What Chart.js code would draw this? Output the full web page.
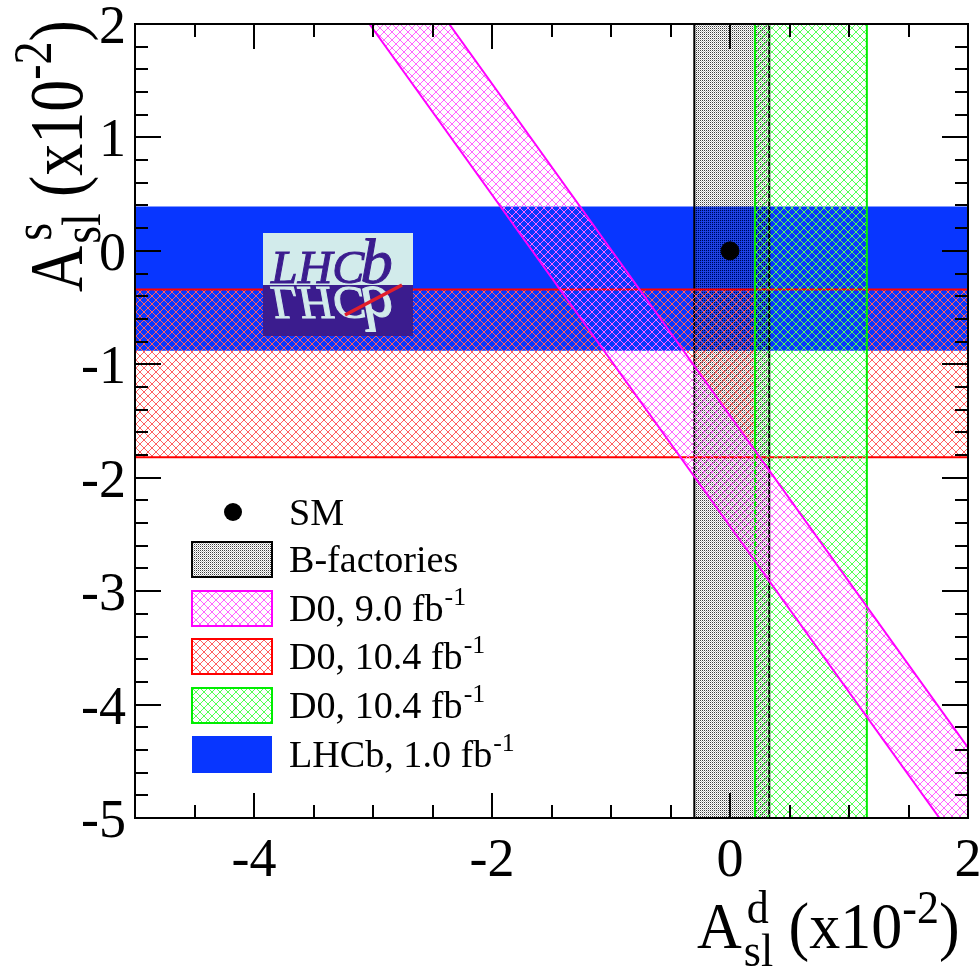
<!DOCTYPE html>
<html><head><meta charset="utf-8">
<script src="https://cdn.jsdelivr.net/npm/chart.js@4.4.1/dist/chart.umd.min.js"></script>
<style>html,body{margin:0;padding:0;background:#fff}canvas{display:block}</style>
</head><body>
<canvas id="c" width="980" height="969"></canvas>
<script>
// ---- data (units of 1e-2) ----
const xRange = [-5, 2];
const yRange = [-5, 2];
const xTickLabels = [-4, -2, 0, 2];
const yTickLabels = [2, 1, 0, -1, -2, -3, -4, -5];
const smPoint = [0.0, 0.0];
const bFactoriesAd = [-0.30, 0.33];
const d0AdBand = [0.21, 1.15];
const d0AsBand = [-1.82, -0.34];
const lhcbAsBand = [-0.88, 0.39];
const d0AbX = [-3.03, -2.36, 2.00, 2.00, 1.76];
const d0AbY = [2.00, 2.00, -4.38, -5.00, -5.00];
const legendLabels = ['SM', 'B-factories', 'D0, 9.0 fb', 'D0, 10.4 fb', 'D0, 10.4 fb', 'LHCb, 1.0 fb'];
const legendSups = ['', '', '-1', '-1', '-1', '-1'];

const SERIF = '"Liberation Serif", "Times New Roman", serif';
const canvas = document.getElementById('c');
const mainCtx = canvas.getContext('2d');

function hatch(color, n) {
  const c = document.createElement('canvas'); c.width = n; c.height = n;
  const g = c.getContext('2d'); g.fillStyle = color;
  for (let i = 0; i < n; i++) { g.fillRect(i, i, 1, 1); g.fillRect(n - 1 - i, i, 1, 1); }
  return mainCtx.createPattern(c, 'repeat');
}
function dots() {
  const c = document.createElement('canvas'); c.width = 2; c.height = 2;
  const g = c.getContext('2d');
  g.fillStyle = 'rgba(0,0,0,0.75)'; g.fillRect(0, 0, 1, 1);
  g.fillStyle = 'rgba(110,110,110,0.45)'; g.fillRect(1, 1, 1, 1);
  return mainCtx.createPattern(c, 'repeat');
}
const magentaPat = hatch('#ff66ff', 8);
const redPat = hatch('#ff6060', 8);
const greenPat = hatch('#55ff55', 8);
const greyPat = dots();
const BLUE = '#0836ff';

function vBand(a) {
  return [{x: a[0], y: yRange[0]}, {x: a[0], y: yRange[1]}, {x: a[1], y: yRange[1]}, {x: a[1], y: yRange[0]}, {x: a[0], y: yRange[0]}];
}
function hBand(a) {
  return [{x: xRange[0], y: a[0]}, {x: xRange[1], y: a[0]}, {x: xRange[1], y: a[1]}, {x: xRange[0], y: a[1]}, {x: xRange[0], y: a[0]}];
}
const magentaPoly = d0AbX.map((x, i) => ({x, y: d0AbY[i]}));
magentaPoly.push({x: d0AbX[0], y: d0AbY[0]});

function bandDs(data, bg, border, bw, order) {
  return {data, showLine: true, fill: 'shape', backgroundColor: bg, borderColor: border,
    borderWidth: bw, pointRadius: 0, order, tension: 0};
}

const datasets = [
  bandDs(hBand(lhcbAsBand), BLUE, BLUE, 0, 6),
  bandDs(vBand(bFactoriesAd), greyPat, '#000', 2, 5),
  bandDs(hBand(d0AsBand), redPat, '#ff0000', 2, 4),
  bandDs(vBand(d0AdBand), greenPat, '#00ee00', 2, 3),
  bandDs(magentaPoly, magentaPat, '#ff00ff', 2, 2),
  {data: [{x: smPoint[0], y: smPoint[1]}], pointRadius: 9, pointBackgroundColor: '#000',
    pointBorderColor: '#000', showLine: false, order: 1}
];

function drawTitle(ctx, x, y, rot, F, S, k, supOff, subOff, A, sup, sub, mid, sup2, end) {
  ctx.save();
  ctx.translate(x, y);
  if (rot) ctx.rotate(rot);
  ctx.scale(1, k);
  ctx.fillStyle = '#000';
  ctx.textAlign = 'left'; ctx.textBaseline = 'alphabetic';
  ctx.font = F + 'px ' + SERIF;
  ctx.fillText(A, 0, 0);
  let p = ctx.measureText(A).width + 2;
  ctx.font = S + 'px ' + SERIF;
  ctx.fillText(sup, p + 3, supOff);
  ctx.fillText(sub, p, subOff);
  p += Math.max(ctx.measureText(sub).width, ctx.measureText(sup).width + 3);
  ctx.font = F + 'px ' + SERIF;
  ctx.fillText(mid, p, 0);
  p += ctx.measureText(mid).width;
  ctx.font = S + 'px ' + SERIF;
  ctx.fillText(sup2, p, supOff);
  p += ctx.measureText(sup2).width;
  ctx.font = F + 'px ' + SERIF;
  ctx.fillText(end, p, 0);
  ctx.restore();
}

function logoText(ctx, color) {
  ctx.save();
  ctx.translate(271, 283);
  ctx.scale(1.02, 1);
  ctx.fillStyle = color;
  ctx.strokeStyle = color; ctx.lineWidth = 1;
  ctx.font = 'italic 47px ' + SERIF;
  ctx.fillText('LHC', 0, 0);
  ctx.strokeText('LHC', 0, 0);
  const w = ctx.measureText('LHC').width;
  ctx.font = 'italic 64px ' + SERIF;
  ctx.fillText('b', w - 4, 0);
  ctx.strokeText('b', w - 4, 0);
  ctx.restore();
}

const decor = {
  id: 'decor',
  afterDatasetsDraw(chart) {
    const ctx = chart.ctx;
    // LHCb logo
    ctx.save();
    ctx.fillStyle = '#d2ebeb'; ctx.fillRect(263, 233, 150, 52);
    ctx.fillStyle = '#3b1c8e'; ctx.fillRect(263, 285, 150, 51);
    ctx.save(); ctx.beginPath(); ctx.rect(263, 233, 150, 52); ctx.clip();
    logoText(ctx, '#3b1c8e'); ctx.restore();
    ctx.save(); ctx.beginPath(); ctx.rect(263, 285, 150, 51); ctx.clip();
    ctx.translate(0, 570); ctx.scale(1, -1); logoText(ctx, '#d2ebeb'); ctx.restore();
    ctx.strokeStyle = '#e11f2b'; ctx.lineWidth = 3.5; ctx.beginPath();
    ctx.moveTo(345, 315); ctx.lineTo(402, 285); ctx.stroke();
    ctx.restore();
  },
  afterDraw(chart) {
    const ctx = chart.ctx, a = chart.chartArea;
    const xs = chart.scales.x, ys = chart.scales.y;
    ctx.save();
    ctx.strokeStyle = '#000'; ctx.lineWidth = 2;
    // ticks
    ctx.beginPath();
    for (let i = 0; i <= 14; i++) {
      const v = xRange[0] + i * 0.5;
      const px = Math.round(xs.getPixelForValue(v));
      const len = xTickLabels.includes(v) ? 25 : 13;
      ctx.moveTo(px, a.bottom); ctx.lineTo(px, a.bottom - len);
      ctx.moveTo(px, a.top); ctx.lineTo(px, a.top + len);
    }
    for (let i = 0; i <= 35; i++) {
      const v = yRange[0] + i * 0.2;
      const py = Math.round(ys.getPixelForValue(v));
      const len = (i % 5 === 0) ? 26 : 13;
      ctx.moveTo(a.left, py); ctx.lineTo(a.left + len, py);
      ctx.moveTo(a.right, py); ctx.lineTo(a.right - len, py);
    }
    ctx.stroke();
    ctx.strokeRect(a.left, a.top, a.right - a.left, a.bottom - a.top);
    // tick labels
    ctx.fillStyle = '#000';
    ctx.font = '54px ' + SERIF;
    ctx.textAlign = 'center'; ctx.textBaseline = 'alphabetic';
    xTickLabels.forEach(v => ctx.fillText(String(v), xs.getPixelForValue(v), 876));
    ctx.textAlign = 'right';
    yTickLabels.forEach(v => ctx.fillText(String(v), 126, ys.getPixelForValue(v) + 19));
    // legend
    const boxTops = [542, 591, 639, 688, 736];
    const fills = [greyPat, magentaPat, redPat, greenPat, BLUE];
    const strokes = ['#000', '#ff00ff', '#ff0000', '#00ee00', null];
    const baselines = [525, 572, 621, 669, 718, 767];
    ctx.beginPath(); ctx.arc(233, 512, 9, 0, Math.PI * 2); ctx.fillStyle = '#000'; ctx.fill();
    boxTops.forEach((t, i) => {
      ctx.fillStyle = fills[i];
      const h = strokes[i] ? 35 : 37;
      ctx.fillRect(192, t, 80, h);
      if (strokes[i]) { ctx.strokeStyle = strokes[i]; ctx.lineWidth = 2; ctx.strokeRect(192, t, 80, h); }
    });
    ctx.textAlign = 'left'; ctx.fillStyle = '#000';
    legendLabels.forEach((s, i) => {
      ctx.save();
      ctx.translate(289, baselines[i]);
      ctx.scale(1.03, 1.04);
      ctx.font = '37px ' + SERIF;
      ctx.fillText(s, 0, 0);
      if (legendSups[i]) {
        const w = ctx.measureText(s).width;
        ctx.font = '25px ' + SERIF;
        ctx.fillText(legendSups[i], w + 1, -15);
      }
      ctx.restore();
    });
    // axis titles
    drawTitle(ctx, 697, 948, 0, 62, 44, 1.07, -23, 17, 'A', 'd', 'sl', ' (x10', '-2', ')');
    drawTitle(ctx, 82, 292, -Math.PI / 2, 64, 46, 1.2, -26, 15, 'A', 's', 'sl', ' (x10', '-2', ')');
    ctx.restore();
  }
};

new Chart(canvas, {
  type: 'scatter',
  data: {datasets},
  options: {
    responsive: false, animation: false, devicePixelRatio: 1,
    layout: {padding: {left: 135, top: 24, right: 12, bottom: 151}},
    scales: {
      x: {type: 'linear', min: xRange[0], max: xRange[1], display: false},
      y: {type: 'linear', min: yRange[0], max: yRange[1], display: false}
    },
    plugins: {legend: {display: false}, tooltip: {enabled: false}},
    events: []
  },
  plugins: [decor]
});
</script>
</body></html>
